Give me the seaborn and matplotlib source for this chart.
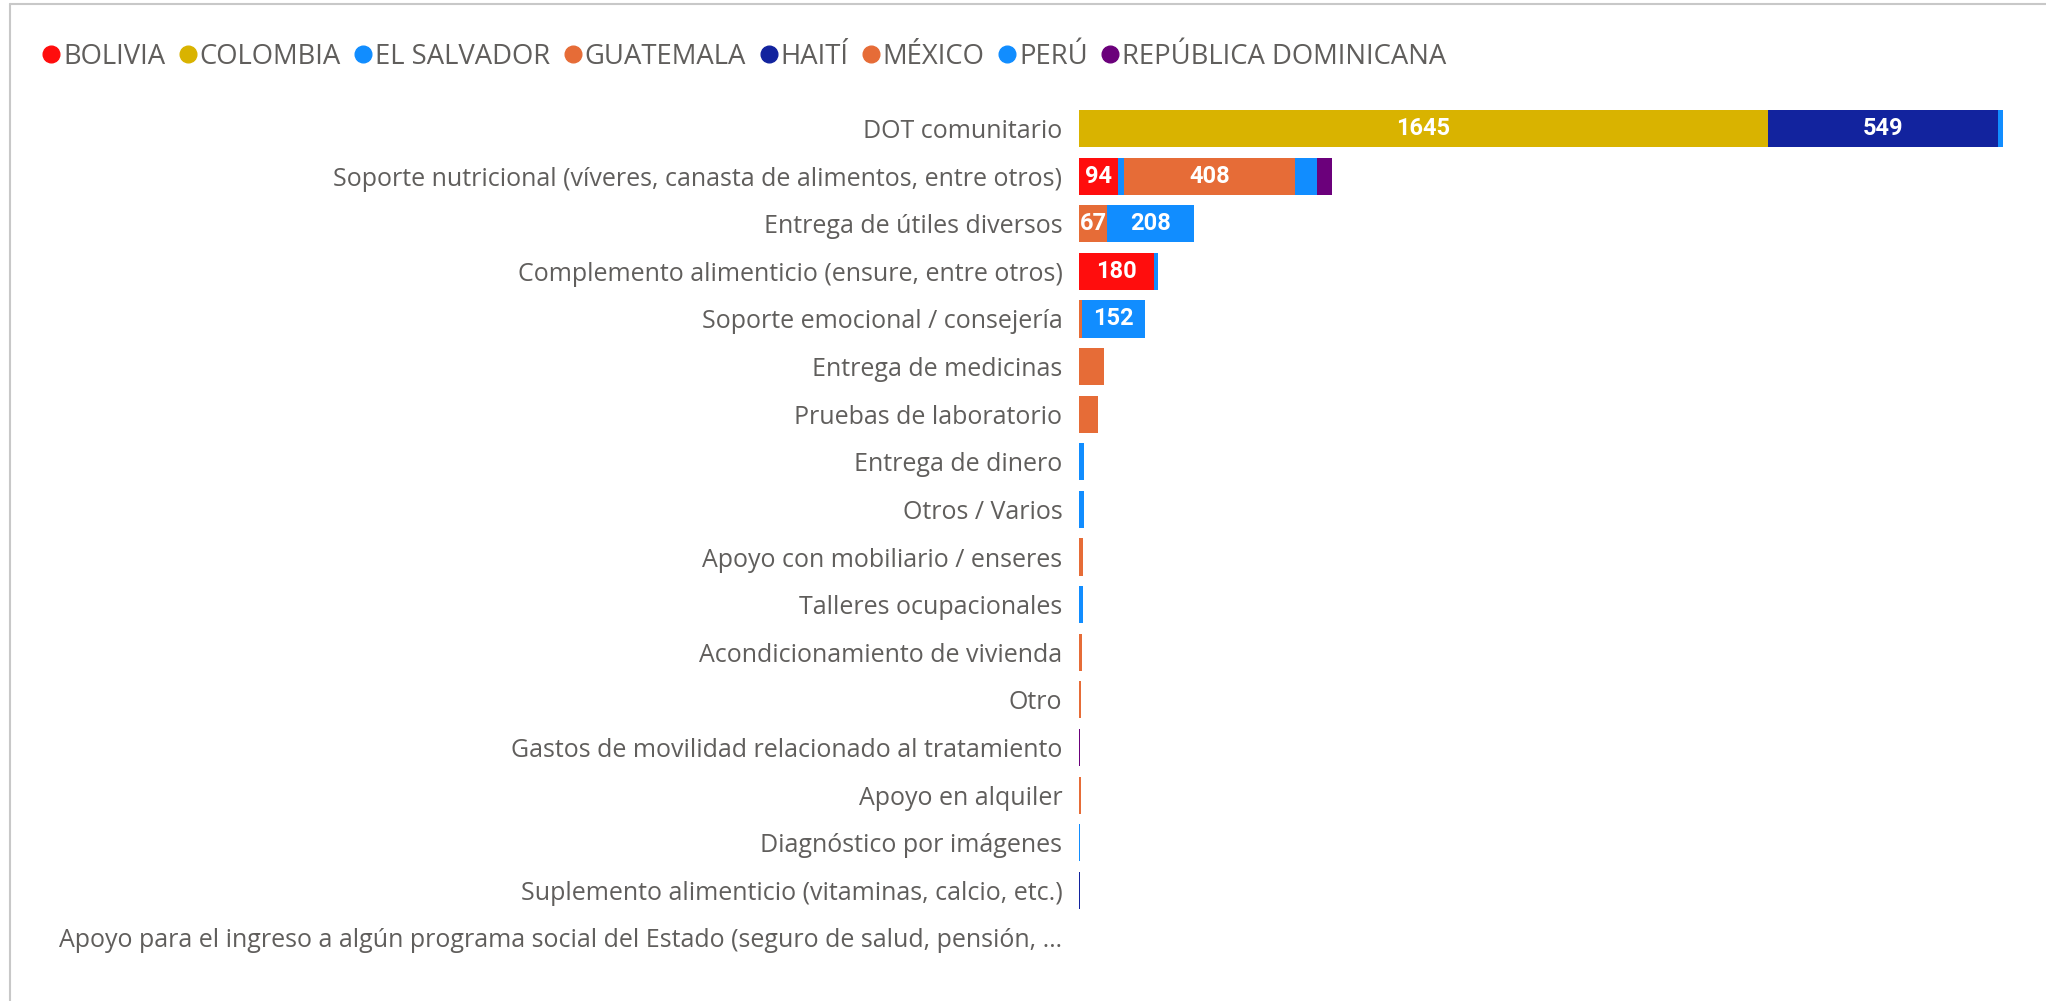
import numpy as np
import pandas as pd
import matplotlib.pyplot as plt
import seaborn as sns
from matplotlib.lines import Line2D

# categorias (eje y)
categorias = [
    "DOT comunitario",
    "Soporte nutricional (víveres, canasta de alimentos, entre otros)",
    "Entrega de útiles diversos",
    "Complemento alimenticio (ensure, entre otros)",
    "Soporte emocional / consejería",
    "Entrega de medicinas",
    "Pruebas de laboratorio",
    "Entrega de dinero",
    "Otros / Varios",
    "Apoyo con mobiliario / enseres",
    "Talleres ocupacionales",
    "Acondicionamiento de vivienda",
    "Otro",
    "Gastos de movilidad relacionado al tratamiento",
    "Apoyo en alquiler",
    "Diagnóstico por imágenes",
    "Suplemento alimenticio (vitaminas, calcio, etc.)",
    "Apoyo para el ingreso a algún programa social del Estado (seguro de salud, pensión, …",
]

paises = ["BOLIVIA", "COLOMBIA", "EL SALVADOR", "GUATEMALA", "HAITÍ",
          "MÉXICO", "PERÚ", "REPÚBLICA DOMINICANA"]
colores = ["#FF0D0D", "#D9B300", "#118DFF", "#E66C37", "#12239E",
           "#E66C37", "#118DFF", "#6B007B"]

# valores por pais (mismo orden que categorias)
bolivia     = [0, 94, 0, 180, 0, 0, 0, 0, 0, 0, 0, 0, 0, 0, 0, 0, 0, 0]
colombia    = [1645, 0, 0, 0, 0, 0, 0, 0, 0, 0, 0, 0, 0, 0, 0, 0, 0, 0]
el_salvador = [0, 13, 0, 0, 0, 0, 0, 12, 0, 0, 9, 0, 0, 0, 0, 3, 0, 1]
guatemala   = [0, 408, 67, 0, 6, 45, 0, 0, 0, 0, 0, 6, 0, 0, 0, 0, 0, 0]
haiti       = [549, 0, 0, 0, 0, 0, 0, 0, 0, 0, 0, 0, 0, 0, 0, 0, 3, 0]
mexico      = [0, 0, 0, 0, 0, 15, 45, 0, 0, 10, 0, 0, 5, 0, 4, 0, 0, 0]
peru        = [12, 54, 208, 8, 152, 0, 0, 0, 12, 0, 0, 0, 0, 0, 0, 0, 0, 0]
rep_dom     = [0, 36, 0, 0, 0, 0, 0, 0, 0, 0, 0, 0, 0, 3, 0, 0, 0, 0]

series = [bolivia, colombia, el_salvador, guatemala, haiti, mexico, peru, rep_dom]

df = pd.DataFrame(np.array(series).T, columns=paises)
df.insert(0, "categoria", categorias)
acum = df[paises].cumsum(axis=1)

sns.set_theme(style="white")
plt.rcParams['font.family'] = ['Open Sans', 'DejaVu Sans']
gris = "#605E5C"

fig = plt.figure(figsize=(20.46, 10.01), dpi=100)
ax = fig.add_axes([0.5274, 0.0392, 0.4534, 0.8562])

# barras apiladas: se dibuja el acumulado de atras hacia adelante
for pais, color in reversed(list(zip(paises, colores))):
    sns.barplot(x=acum[pais], y=df["categoria"], color=color, orient="h",
                width=0.78, linewidth=0, saturation=1, ax=ax)

# etiquetas de datos
for i, cat in enumerate(categorias):
    izq = 0
    for pais in paises:
        v = df.loc[i, pais]
        if v >= 65:
            ax.text(izq + v / 2, i, f"{v}", ha="center", va="center",
                    color="white", fontsize=17, fontweight="bold",
                    family="Roboto")
        izq += v

ax.set_xlim(0, 2215)
ax.set_ylim(len(categorias) - 0.5, -0.5)
ax.set_xlabel("")
ax.set_ylabel("")
ax.set_xticks([])
ax.tick_params(axis="y", length=0, pad=12, labelsize=18, labelcolor=gris)
sns.despine(ax=ax, left=True, bottom=True)

# leyenda
handles = [Line2D([0], [0], marker="o", linestyle="", markersize=12,
                  markerfacecolor=c, markeredgecolor=c) for c in colores]
leg = fig.legend(handles, paises, loc="center left",
                 bbox_to_anchor=(0.014, 0.943), ncol=8, frameon=False,
                 handletextpad=0.0, columnspacing=0.4, fontsize=19.8,
                 handlelength=0.85, borderaxespad=0)
for t in leg.get_texts():
    t.set_color(gris)

# borde del visual
fig.add_artist(Line2D([0.0049, 1.0], [0.996, 0.996], color="#C8C8C8", lw=1.5))
fig.add_artist(Line2D([0.0049, 0.0049], [0.0, 0.996], color="#C8C8C8", lw=1.5))

fig.savefig("out.png", dpi=100)
